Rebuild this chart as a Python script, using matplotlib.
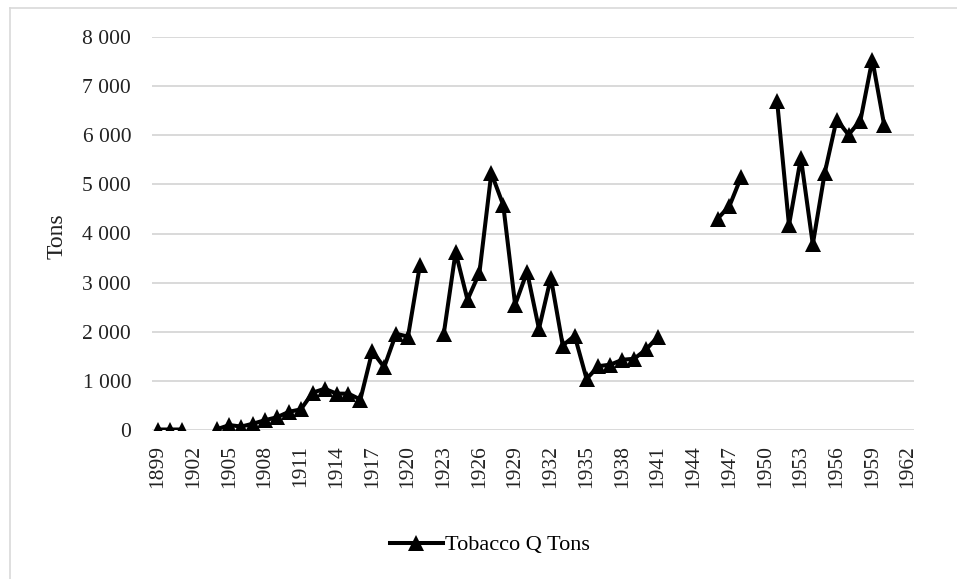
import numpy as np
import matplotlib
matplotlib.use("Agg")
import matplotlib.pyplot as plt
from matplotlib.lines import Line2D

years = list(range(1899, 1963))
tons = {
    1899: 10, 1900: 10, 1901: 10,
    1904: 20, 1905: 100, 1906: 70, 1907: 130, 1908: 200, 1909: 260, 1910: 370,
    1911: 420, 1912: 760, 1913: 840, 1914: 740, 1915: 740, 1916: 620,
    1917: 1600, 1918: 1280, 1919: 1960, 1920: 1900, 1921: 3350,
    1923: 1950, 1924: 3620, 1925: 2650, 1926: 3200, 1927: 5230, 1928: 4580,
    1929: 2550, 1930: 3220, 1931: 2060, 1932: 3100, 1933: 1720, 1934: 1920,
    1935: 1040, 1936: 1300, 1937: 1330, 1938: 1430, 1939: 1450, 1940: 1640,
    1941: 1900,
    1946: 4300, 1947: 4560, 1948: 5160,
    1951: 6700, 1952: 4170, 1953: 5540, 1954: 3780, 1955: 5230, 1956: 6320,
    1957: 6010, 1958: 6300, 1959: 7540, 1960: 6200,
}
values = [tons.get(y, np.nan) for y in years]
yticks = [0, 1000, 2000, 3000, 4000, 5000, 6000, 7000, 8000]
ytick_labels = ["0", "1 000", "2 000", "3 000", "4 000", "5 000", "6 000", "7 000", "8 000"]
series_name = "Tobacco Q Tons"

plt.rcParams['font.family'] = ['Liberation Serif', 'DejaVu Serif']

W, H = 957, 579
fig = plt.figure(figsize=(W / 100, H / 100), dpi=100)
ax = fig.add_axes([152 / W, 1 - 430 / H, (914 - 152) / W, (430 - 37) / H])

x = np.arange(len(years))
ax.plot(x, values, color='black', linewidth=2.9, marker='^', markersize=11,
        markeredgewidth=0, label=series_name, zorder=3)

ax.set_xlim(-0.5, len(years) - 0.5)
ax.set_ylim(0, 8000)
ax.set_yticks(yticks)
ax.set_yticklabels(ytick_labels, fontsize=15.5, color='#222222')
ax.set_xticks(x[::3])
ax.set_xticklabels([str(y) for y in years[::3]], rotation=90, fontsize=15.5, color='#222222')
ax.tick_params(axis='both', length=0)
ax.tick_params(axis='y', pad=15)
ax.tick_params(axis='x', pad=11)
ax.grid(axis='y', color='#d9d9d9', linewidth=1.4, zorder=0)
ax.set_axisbelow(True)
for s in ax.spines.values():
    s.set_visible(False)

fig.text(57 / W, 1 - 236 / H, "Tons", rotation=90, fontsize=17, color='#222222',
         ha='center', va='center')

fig.legend(handles=[Line2D([0], [0], color='black', linewidth=2.9, marker='^',
                           markersize=11, markeredgewidth=0)],
           labels=[series_name], loc='center', bbox_to_anchor=(490 / W, 1 - 545 / H),
           frameon=False, fontsize=16, handlelength=2.4, handletextpad=0.1)

# chart-area border (left and top edges visible)
fig.add_artist(Line2D([10 / W, 10 / W], [0, 1 - 8 / H], transform=fig.transFigure,
                      color='#d9d9d9', linewidth=1.2))
fig.add_artist(Line2D([10 / W, 1], [1 - 8 / H, 1 - 8 / H], transform=fig.transFigure,
                      color='#d9d9d9', linewidth=1.2))

fig.savefig("out.png", dpi=100, facecolor='white')
